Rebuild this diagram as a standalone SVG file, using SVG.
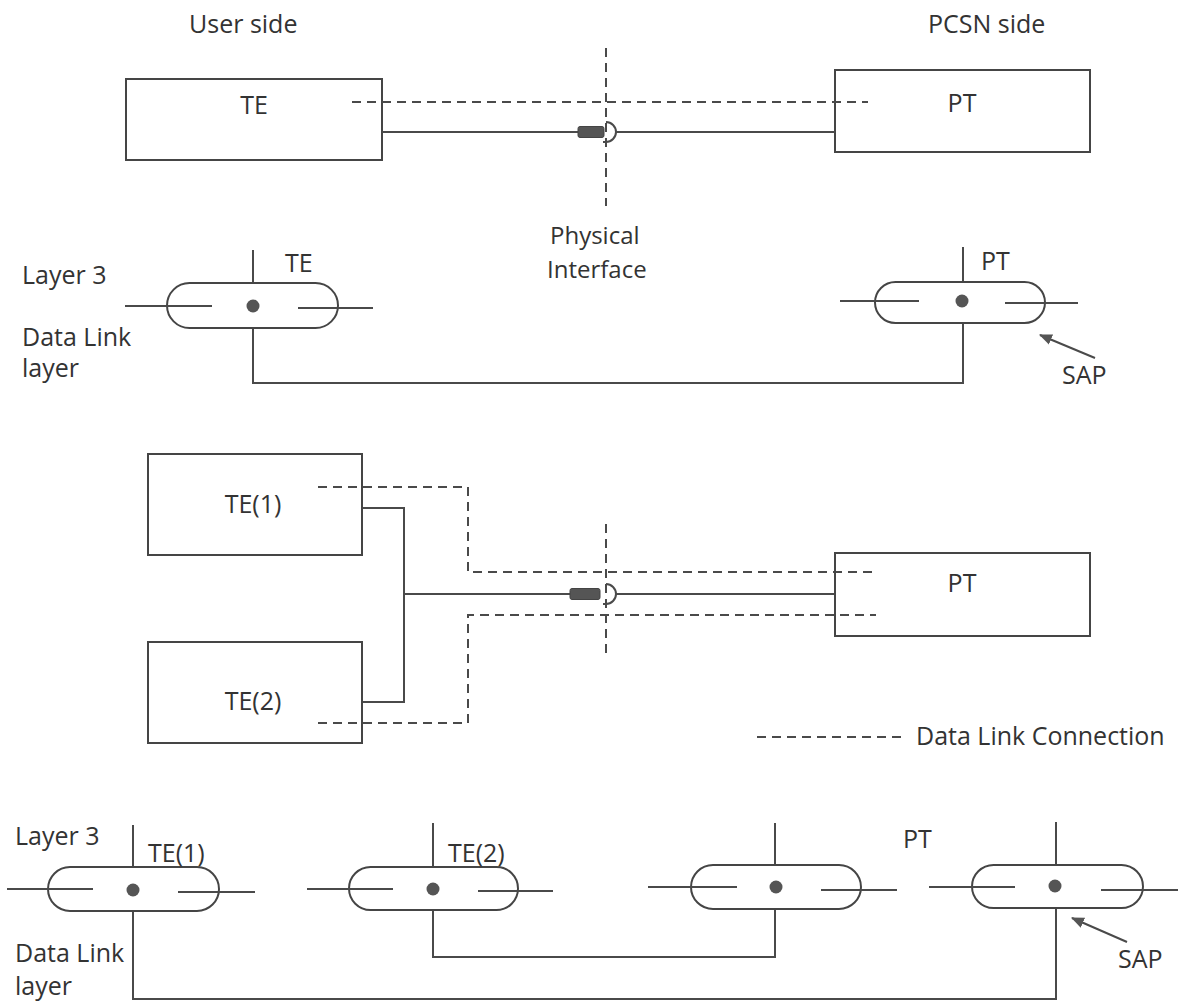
<svg xmlns="http://www.w3.org/2000/svg" width="1192" height="1004" viewBox="0 0 1192 1004">
<defs>
<style>
.box{fill:none;stroke:#454545;stroke-width:2}
.ln{fill:none;stroke:#4a4a4a;stroke-width:2}
.dash{fill:none;stroke:#4a4a4a;stroke-width:2;stroke-dasharray:9 6}
.oval{fill:none;stroke:#454545;stroke-width:2}
.dot{fill:#555}
.plug{fill:#555;stroke:#444;stroke-width:1}
text{font-family:"Open Sans","Noto Sans","Liberation Sans",sans-serif;font-size:25px;fill:#333}
.c{text-anchor:middle}
.s{font-size:24px}
</style>
<marker id="ah" viewBox="0 0 12 10" refX="11" refY="5" markerWidth="13" markerHeight="11" markerUnits="userSpaceOnUse" orient="auto">
<path d="M0,0 L12,5 L0,10 z" fill="#555"/>
</marker>
</defs>
<rect width="1192" height="1004" fill="#fff"/>

<text x="189" y="33">User side</text>
<text x="928" y="33">PCSN side</text>

<g id="te-top"><rect class="box" x="126" y="79" width="256" height="81"/><text class="c" x="254" y="114">TE</text></g>
<g id="pt-top"><rect class="box" x="835" y="70" width="255" height="82"/><text class="c" x="962" y="112">PT</text></g>

<g id="connectors">
<line class="dash" x1="352" y1="102" x2="868" y2="102"/>
<line class="ln" x1="382" y1="132" x2="578" y2="132"/>
<line class="ln" x1="616" y1="132" x2="835" y2="132"/>
<line class="dash" x1="606" y1="48" x2="606" y2="206"/>
<rect class="plug" x="578" y="126.5" width="26" height="11" rx="2"/>
<path class="ln" d="M606,122 A10,10 0 0 1 606,142 l-3,0"/>

<line class="ln" x1="253" y1="250" x2="253" y2="283"/>
<path class="ln" d="M253,328 L253,383 L963,383 L963,323"/>
<line class="ln" x1="963" y1="247" x2="963" y2="282"/>
<line class="ln" x1="1095" y1="358" x2="1040" y2="335" marker-end="url(#ah)"/>

<path class="ln" d="M362,508 L404,508 L404,702 L362,702"/>
<line class="ln" x1="404" y1="594" x2="570" y2="594"/>
<line class="ln" x1="616" y1="594" x2="835" y2="594"/>
<rect class="plug" x="570" y="588.5" width="30" height="11" rx="2"/>
<path class="ln" d="M606,584 A10,10 0 0 1 606,604 l-3,0"/>
<line class="dash" x1="606" y1="524" x2="606" y2="656"/>
<path class="dash" d="M318,487 L468,487 L468,572 L876,572"/>
<path class="dash" d="M318,723 L468,723 L468,615 L876,615"/>
<line class="dash" x1="757" y1="737" x2="906" y2="737"/>

<line class="ln" x1="133" y1="825" x2="133" y2="867"/>
<path class="ln" d="M133,911 L133,999 L1056,999 L1056,908"/>
<line class="ln" x1="433" y1="823" x2="433" y2="867"/>
<path class="ln" d="M433,910 L433,957 L775,957 L775,909"/>
<line class="ln" x1="775" y1="823" x2="775" y2="865"/>
<line class="ln" x1="1056" y1="822" x2="1056" y2="865"/>
<line class="ln" x1="1127" y1="942" x2="1072" y2="918" marker-end="url(#ah)"/>
</g>

<text class="s" x="550" y="244">Physical</text>
<text class="s" x="547" y="278">Interface</text>
<text x="22" y="284">Layer 3</text>
<text x="22" y="346">Data Link</text>
<text x="22" y="377">layer</text>

<g id="sap-te"><rect class="oval" x="167" y="283" width="171" height="45" rx="22.5"/><line class="ln" x1="125" y1="306" x2="212" y2="306"/><line class="ln" x1="298" y1="308" x2="373" y2="308"/><circle class="dot" cx="253" cy="306" r="6.5"/><text x="285" y="272">TE</text></g>
<g id="sap-pt"><rect class="oval" x="875" y="282" width="170" height="41" rx="20.5"/><line class="ln" x1="840" y1="301" x2="919" y2="301"/><line class="ln" x1="1005" y1="303" x2="1078" y2="303"/><circle class="dot" cx="962" cy="301" r="6.5"/><text x="981" y="270">PT</text></g>
<text x="1062" y="384">SAP</text>

<g id="te1"><rect class="box" x="148" y="454" width="214" height="101"/><text class="c" x="253" y="513">TE(1)</text></g>
<g id="te2"><rect class="box" x="148" y="642" width="214" height="101"/><text class="c" x="253" y="710">TE(2)</text></g>
<g id="pt-mid"><rect class="box" x="835" y="553" width="255" height="83"/><text class="c" x="962" y="592">PT</text></g>
<text x="916" y="745">Data Link Connection</text>

<text x="15" y="845">Layer 3</text>
<text x="15" y="962">Data Link</text>
<text x="15" y="995">layer</text>

<g id="sap-te1"><rect class="oval" x="48" y="867" width="171" height="44" rx="22"/><line class="ln" x1="7" y1="889" x2="93" y2="889"/><line class="ln" x1="178" y1="892" x2="255" y2="892"/><circle class="dot" cx="133" cy="890" r="6.5"/><text x="148" y="862">TE(1)</text></g>
<g id="sap-te2"><rect class="oval" x="349" y="867" width="169" height="43" rx="21.5"/><line class="ln" x1="307" y1="889" x2="393" y2="889"/><line class="ln" x1="478" y1="891" x2="553" y2="891"/><circle class="dot" cx="433" cy="889" r="6.5"/><text x="448" y="862">TE(2)</text></g>
<g id="sap-pt1"><rect class="oval" x="691" y="865" width="170" height="44" rx="22"/><line class="ln" x1="648" y1="887" x2="737" y2="887"/><line class="ln" x1="821" y1="890" x2="897" y2="890"/><circle class="dot" cx="776" cy="887" r="6.5"/></g>
<g id="sap-pt2"><rect class="oval" x="972" y="865" width="171" height="43" rx="21.5"/><line class="ln" x1="929" y1="887" x2="1015" y2="887"/><line class="ln" x1="1101" y1="890" x2="1178" y2="890"/><circle class="dot" cx="1055" cy="886" r="6.5"/></g>
<text x="903" y="848">PT</text>
<text x="1118" y="968">SAP</text>
</svg>
